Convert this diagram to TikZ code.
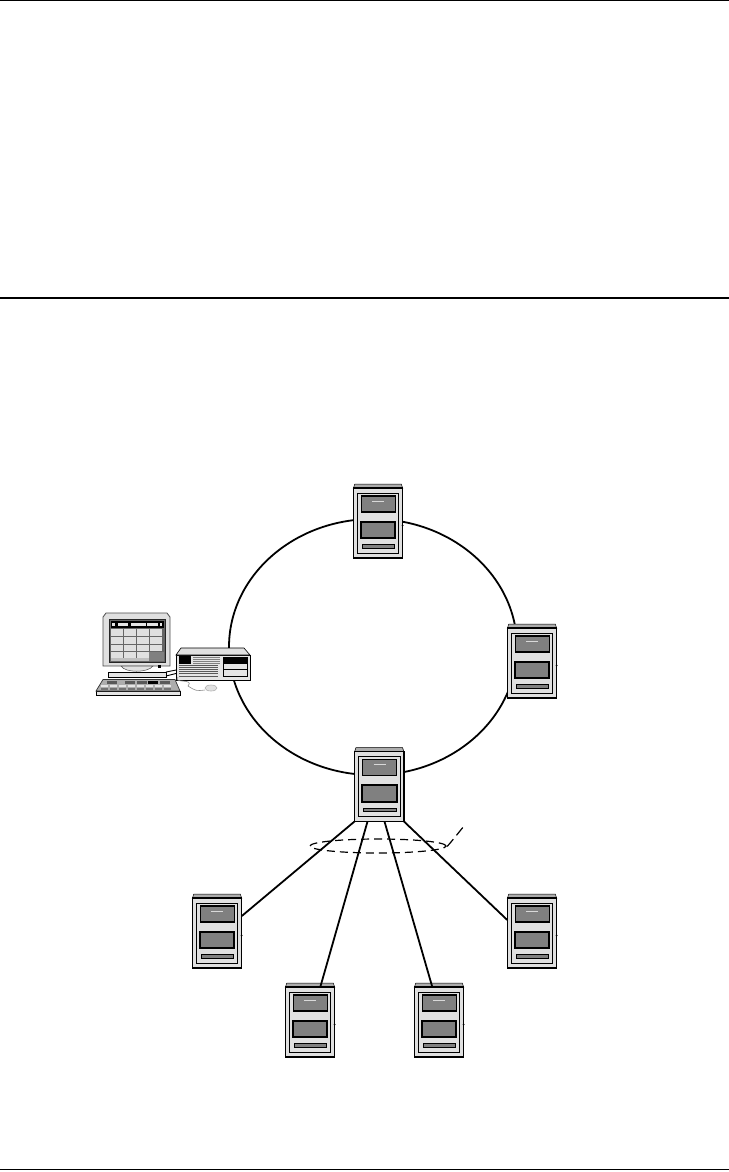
\documentclass[tikz,border=0pt]{standalone}
\usetikzlibrary{shapes.geometric,calc}
\definecolor{cabinet}{gray}{0.88}
\definecolor{capgray}{gray}{0.68}
\definecolor{panel}{gray}{0.5}
\tikzset{
  px/.style={x=1bp,y=-1bp},
  serverbox/.style={draw=black,line width=1.3pt,fill=cabinet,rectangle,minimum width=49.5bp,minimum height=70bp,inner sep=0pt,outer sep=0pt},
  link/.style={draw=black,line width=1.8pt},
  rule/.style={draw=black,line width=1.2pt},
}
\newcommand{\serverunit}[3]{%
  % #1 name, #2 left x, #3 cap top y
  \begin{scope}[shift={(#2,#3)}]
    \filldraw[fill=capgray,draw=black,line width=0.5pt] (0,4.5) -- (1.5,0) -- (48,0) -- (49.5,4.5) -- cycle;
    \node[serverbox,anchor=north west] (#1) at (0,4) {};
    \draw[line width=0.9pt] (4,9) rectangle (45.5,69);
    \filldraw[fill=panel,draw=black,line width=1.1pt] (8,12) rectangle (42,28);
    \draw[white!85!black,line width=0.8pt] (19,17.3) -- (31,17.3);
    \filldraw[fill=panel,draw=black,line width=2pt] (7.5,37.5) rectangle (42,54);
    \filldraw[fill=panel,draw=black,line width=0.8pt] (9,60.5) rectangle (41.5,64);
    \fill[black] (49.3,41.5) circle (1);
  \end{scope}}
\begin{document}
\begin{tikzpicture}[px]
\useasboundingbox (0,0) rectangle (729,1172);
\fill[white] (0,0) rectangle (729,1172);
% page rules
\coordinate (r1l) at (0,0.6); \coordinate (r1r) at (729,0.6);
\coordinate (r2l) at (0,297.7); \coordinate (r2r) at (729,297.7);
\coordinate (r3l) at (0,1169.5); \coordinate (r3r) at (729,1169.5);
\draw[rule] (r1l) -- (r1r);
\draw[rule,line width=1.9pt] (r2l) -- (r2r);
\draw[rule] (r3l) -- (r3r);
% ring
\node[ellipse,draw=black,line width=1.8pt,minimum width=288bp,minimum height=256bp,inner sep=0pt] (ring) at (373,647) {};
\serverunit{s1}{353.3}{484}
\serverunit{s2}{507.3}{624}
\serverunit{s3}{354.5}{747.5}
\serverunit{s4}{192.3}{894}
\serverunit{s5}{507.3}{894}
\serverunit{s6}{285.3}{983}
\serverunit{s7}{414.3}{983}
\draw[link] (s3.south west) -- ($(s4.north east)+(0,18)$);
\draw[link] ($(s3.south west)+(13,0)$) -- ($(s6.north west)+(35,0)$);
\draw[link] ($(s3.south west)+(30,0)$) -- ($(s7.north west)+(18,0)$);
\draw[link] (s3.south east) -- ($(s5.north west)+(0,22)$);
% bundle marker
\node[ellipse,draw=black,dash pattern=on 8bp off 5bp,line width=1.2pt,minimum width=136bp,minimum height=14bp,inner sep=0pt] (bundle) at (378,846) {};
\coordinate (tag) at (464,826);
\draw[black,dash pattern=on 10bp off 5bp,line width=1.2pt] (bundle.east) .. controls (447,847) .. (tag);
% workstation
\begin{scope}
  \node[draw=black,line width=0.8pt,fill=white!90!black,minimum width=74bp,minimum height=25bp,inner sep=0pt,anchor=north west] (box) at (176,654.5) {};
  \filldraw[fill=cabinet,draw=black,line width=0.6pt] (176,655) -- (181,648) -- (244,648) -- (250,655) -- cycle;
  \fill[black] (179,656) rectangle (191,664);
  \foreach \yy in {657,659,661,663}{\draw[gray,line width=0.9pt] (193,\yy) -- (220,\yy);}
  \foreach \yy in {665.5,667.5,669.5,671.5,673.5,676}{\draw[black!65,line width=0.9pt] (179,\yy) -- (218,\yy);}
  \filldraw[fill=white!90!black,draw=black,line width=0.8pt] (223,657) rectangle (247,676);
  \fill[black] (223,657) rectangle (247,664);
  \draw[line width=0.8pt] (223,669.5) -- (247,669.5);
  % monitor
  \filldraw[fill=cabinet,draw=black!70,line width=0.8pt] (103,617) -- (106,613) -- (167,613) -- (170,617) -- (170,666) -- (103,666) -- cycle;
  \node[fill=black!60,draw=black!85,line width=0.8pt,minimum width=56bp,minimum height=43bp,inner sep=0pt,anchor=north west] (screen) at (109,619) {};
  \fill[black] (110.5,621) rectangle (163.5,627.5);
  \foreach \xa/\xb in {112/115,118/128,131/146,147/158,160/162}{\fill[white!90!black] (\xa,622.5) rectangle (\xb,626);}
  \foreach \ya in {629,637,644.5}{
    \foreach \xa in {111,124,137,150}{\fill[cabinet] (\xa,\ya) rectangle (\xa+12,\ya+6.5);}}
  \foreach \xa in {111,124,137}{\fill[cabinet] (\xa,652) rectangle (\xa+12,657.5);}
  \fill[panel] (149,652) rectangle (163.5,660.5);
  \fill[black!25] (110.5,658) rectangle (149,660.5);
  \filldraw[fill=cabinet,draw=black!70,line width=0.5pt] (121,666) .. controls (125,673) and (148,673) .. (153,666) -- cycle;
  \filldraw[fill=white!90!black,draw=black,line width=0.9pt] (108,672) rectangle (166,677);
  \fill[black] (158,665) rectangle (161,667.5);
  % keyboard
  \filldraw[fill=white!90!black,draw=black,line width=0.8pt] (96,691) rectangle (180,695.5);
  \filldraw[fill=capgray,draw=black!80,line width=0.7pt] (103,679.5) -- (175,679.5) -- (180,691) -- (96,691) -- cycle;
  \foreach \xa in {107,125,137}{\fill[black!65] (\xa,681) rectangle (\xa+10,683.5);}
  \fill[black] (148,680.5) rectangle (158,683.5);
  \fill[black!65] (160,681) rectangle (170,683.5);
  \foreach \xa in {101,110,119,128,137,146,155,164}{\fill[white!90!black] (\xa,685) rectangle (\xa+7,686.5); \fill[black!55] (\xa,687.5) rectangle (\xa+7,689.5);}
  % cables
  \draw[line width=0.9pt] (166,672) -- (176,670);
  \draw[line width=0.9pt] (166,676) -- (176,673.5);
  \coordinate (mousecord) at (205,690);
  \draw[black!45,line width=0.6pt] (178,677) .. controls (172,684) and (195,678) .. (188,686) .. controls (196,691) .. (mousecord);
  \node[ellipse,draw=black!30,fill=black!12,line width=0.6pt,minimum width=12bp,minimum height=6bp,inner sep=0pt] (mouse) at (211,688) {};
\end{scope}
\end{tikzpicture}
\end{document}
